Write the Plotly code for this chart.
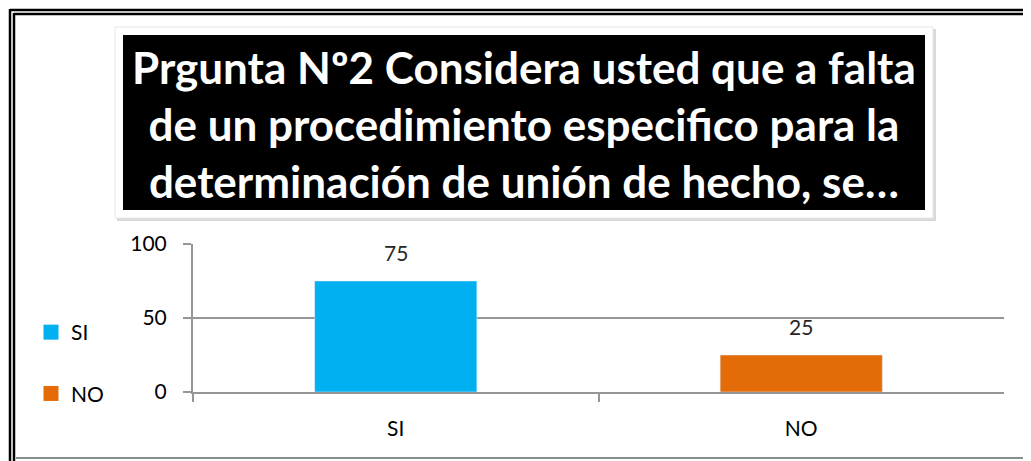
import plotly.graph_objects as go

# datos
categorias = ['SI', 'NO']
valores = [75, 25]
colores = ['#00B0F0', '#E36C09']
titulo = ('Prgunta Nº2 Considera usted que a falta<br>'
          'de un procedimiento especifico para la<br>'
          'determinación de unión de hecho, se…')
y_ticks = [0, 50, 100]

W, H = 1031, 461
OFF = 8  # margen del body en la pagina
FONT = 'Lato'
GRIS = '#969696'


def px(x):
    return (x - OFF) / W


def py(y):
    return 1 - (y - OFF) / H


fig = go.Figure()
for cat, val, col in zip(categorias, valores, colores):
    fig.add_trace(go.Bar(x=[cat], y=[val], name=cat, marker_color=col,
                         width=0.4, showlegend=False))
    # entrada de leyenda con cuadrado mas grande
    fig.add_trace(go.Scatter(x=[None], y=[None], mode='markers', name=cat, legendgroup=cat,
                             marker=dict(symbol='square', size=15, color=col)))

# etiquetas de datos
for cat, val in zip(categorias, valores):
    fig.add_annotation(x=cat, y=val, text=str(val), showarrow=False,
                       yshift=29, font=dict(family=FONT, size=21, color='#262626'))

shapes = []
# marco exterior (doble linea)
shapes.append(dict(type='line', xref='paper', yref='paper', x0=px(10), x1=px(1040), y0=py(10), y1=py(10),
                   line=dict(color='black', width=2.5)))
shapes.append(dict(type='line', xref='paper', yref='paper', x0=px(14), x1=px(1040), y0=py(14), y1=py(14),
                   line=dict(color='black', width=2.5)))
shapes.append(dict(type='line', xref='paper', yref='paper', x0=px(10), x1=px(10), y0=py(9), y1=py(470),
                   line=dict(color='black', width=2.5)))
shapes.append(dict(type='line', xref='paper', yref='paper', x0=px(14), x1=px(14), y0=py(13), y1=py(470),
                   line=dict(color='black', width=2.5)))
shapes.append(dict(type='line', xref='paper', yref='paper', x0=px(16), x1=px(1040), y0=py(458), y1=py(458),
                   line=dict(color='#8c8c8c', width=2)))
# caja del titulo: sombra, borde blanco y fondo negro
shapes.append(dict(type='rect', xref='paper', yref='paper', x0=px(117), x1=px(936), y0=py(29), y1=py(221),
                   fillcolor='#d9d9d9', line=dict(width=0), layer='below'))
shapes.append(dict(type='rect', xref='paper', yref='paper', x0=px(115), x1=px(933), y0=py(27), y1=py(218),
                   fillcolor='white', line=dict(color='#e6e6e6', width=1), layer='below'))
shapes.append(dict(type='rect', xref='paper', yref='paper', x0=px(123), x1=px(925), y0=py(35), y1=py(210),
                   fillcolor='black', line=dict(width=0), layer='below'))

fig.add_annotation(xref='paper', yref='paper', x=px(524), y=py(124), text=titulo, showarrow=False,
                   xanchor='center', yanchor='middle', align='center',
                   font=dict(family=FONT, size=44, color='white', weight='bold'))

fig.update_layout(
    width=W, height=H,
    margin=dict(l=0, r=0, t=0, b=0, autoexpand=False),
    paper_bgcolor='white', plot_bgcolor='white',
    shapes=shapes,
    barmode='overlay',
    font=dict(family=FONT, size=21, color='black'),
    showlegend=True,
    legend=dict(x=px(31), y=py(312), xanchor='left', yanchor='top',
                tracegroupgap=31, font=dict(family=FONT, size=21, color='black'),
                bgcolor='rgba(0,0,0,0)'),
    xaxis=dict(domain=[px(193), px(1004)], type='category', range=[-0.5, 1.5], automargin=False,
               showline=True, linecolor=GRIS, linewidth=2,
               ticks='outside', tickson='boundaries', ticklen=8, tickcolor=GRIS, tickwidth=2,
               ticklabelstandoff=17, showgrid=False),
    yaxis=dict(domain=[py(392), py(244)], range=[0, 100], tickvals=y_ticks, automargin=False,
               showline=True, linecolor=GRIS, linewidth=2,
               ticks='outside', ticklen=8, tickcolor=GRIS, tickwidth=2,
               showgrid=True, gridcolor=GRIS, gridwidth=2, zeroline=False,
               ticklabelstandoff=12),
)

fig.write_html('out.html')
